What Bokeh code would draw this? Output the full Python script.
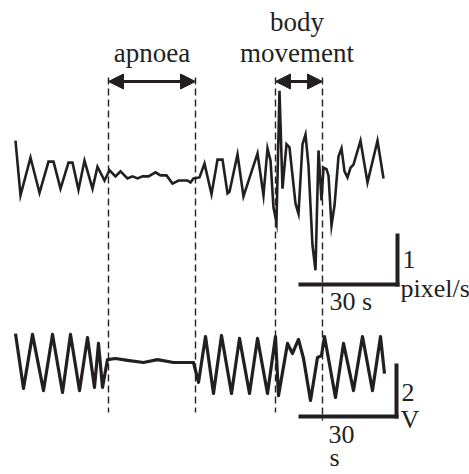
from bokeh.plotting import figure
from bokeh.models import Range1d, Arrow, NormalHead
from bokeh.core.properties import value
from bokeh.embed import file_html
from bokeh.resources import INLINE

# ---- data (time in s) ----
top_t = [0.30, 1.82, 4.85, 7.58, 10.30, 11.82, 13.94, 16.36, 17.58, 19.39, 21.21, 23.64,
         25.15, 27.27, 28.79, 30.61, 32.12, 34.24, 35.76, 37.27, 38.79, 40.61, 42.73, 44.24,
         46.06, 47.88, 49.70, 52.42, 53.33, 54.24, 56.06, 57.58, 59.70, 61.52, 63.03, 64.55,
         65.15, 67.58, 69.39, 73.64, 75.45, 76.67, 77.58, 78.48, 79.39, 80.30, 81.21, 82.42,
         83.33, 85.15, 86.06, 87.27, 88.18, 89.09, 90.30, 91.21, 92.12, 93.03, 93.64, 94.55,
         95.15, 96.06, 96.97, 98.18, 99.09, 100.00, 100.91, 101.82, 102.73, 104.85, 106.97,
         110.00, 111.82]
# velocity, pixel/s
top_v = [0.78, -0.29, 0.45, -0.24, 0.37, 0.37, -0.16, 0.35, 0.35, -0.18, 0.39, -0.16,
         0.27, 0.00, 0.20, 0.08, 0.18, 0.04, 0.08, 0.04, 0.08, 0.08, 0.16, 0.10,
         0.10, -0.06, 0.00, 0.00, -0.04, 0.04, 0.06, 0.33, -0.27, 0.41, 0.41, -0.25,
         -0.22, 0.51, -0.31, 0.53, -0.29, 0.63, 0.39, -0.53, -0.82, 1.76, -0.16, 0.71,
         0.65, -0.45, -0.65, 0.71, 0.90, 0.29, -1.27, -1.76, 0.59, -0.39, 0.25, 0.22,
         0.10, -0.88, -0.49, 0.47, 0.63, 0.18, 0.06, 0.25, 0.31, 0.78, -0.04,
         0.78, 0.04]

bot_t = [0.30, 2.73, 5.45, 8.79, 11.52, 14.55, 16.97, 19.70, 22.12, 24.24, 25.45, 26.67,
         28.18, 30.61, 34.24, 39.09, 43.33, 48.18, 54.24, 55.76, 57.88, 60.30, 62.73, 65.76,
         68.18, 71.21, 73.64, 76.67, 79.09, 80.00, 82.73, 84.24, 86.06, 87.58, 89.70, 91.82,
         93.03, 93.94, 97.27, 99.70, 102.73, 105.45, 108.48, 110.91, 112.12]
# respiration signal, V
bot_v = [1.09, -0.98, 1.06, -1.06, 1.06, -1.13, 1.06, -1.06, 0.94, -0.94, 0.72, -0.94,
         0.11, 0.15, 0.08, 0.00, 0.11, 0.00, 0.00, -0.75, 0.98, -1.17, 1.02, -1.17,
         0.91, -1.17, 0.91, -1.17, 0.98, -1.25, 0.72, 0.34, 0.87, 0.15, -1.43, 0.19,
         0.26, 0.98, -1.32, 0.72, -1.06, 0.98, -1.06, 0.98, -0.42]

events = ["apnoea", "body movement"]
event_start = [28.48, 79.09]
event_end = [54.85, 93.33]

scale_time = 30      # s
scale_top = 1        # pixel/s
scale_bot = 2        # V
scale_t0 = 86.06     # s, start of time scale bar

# ---- layout (screen mapping) ----
W, H = 469, 474
X0, XG = 14.0, 3.3             # px at t=0, px per second
TOP_BASE, TOP_G = 180.0, 51.0  # px at v=0, px per pixel/s
BOT_BASE, BOT_G = 362.0, 26.5  # px at 0 V, px per V
INK = "#231f20"
FONT = value("Liberation Serif")
FS = "26px"

def tx(t):
    return [X0 + XG * a for a in t]

p = figure(width=W, height=H, x_range=Range1d(0, W), y_range=Range1d(H, 0),
           output_backend="svg", toolbar_location=None, min_border=0,
           x_axis_type=None, y_axis_type=None, outline_line_color=None)
p.xgrid.visible = False
p.ygrid.visible = False
p.background_fill_color = "white"
p.border_fill_color = "white"

# traces
p.line(tx(top_t), [TOP_BASE - TOP_G * v for v in top_v], line_color=INK, line_width=2.6,
       line_join="miter")
p.line(tx(bot_t), [BOT_BASE - BOT_G * v for v in bot_v], line_color=INK, line_width=3.2,
       line_join="round")

# dashed event markers
dash_x = []
for s, e in zip(event_start, event_end):
    dash_x += [X0 + XG * s, X0 + XG * e]
dash_y0 = [77, 77, 77, 77]
dash_y1 = [412, 412, 412, 420]
p.segment(dash_x, dash_y0, dash_x, dash_y1, line_color=INK, line_width=1.4, line_dash="7 4")

# arrows
for s, e in zip(event_start, event_end):
    p.add_layout(Arrow(x_start=X0 + XG * s, x_end=X0 + XG * e, y_start=81, y_end=81,
                       line_color=INK, line_width=3,
                       start=NormalHead(size=15, fill_color=INK, line_color=INK, line_width=1),
                       end=NormalHead(size=15, fill_color=INK, line_color=INK, line_width=1)))

# event labels
ax = [(X0 + XG * s + X0 + XG * e) / 2 for s, e in zip(event_start, event_end)]
p.text(x=[ax[0], ax[1] - 2, ax[1] - 2], y=[52, 21, 52], text=["apnoea", "body", "movement"],
       text_font=FONT, text_font_size="27px", text_color=INK,
       text_align="center", text_baseline="alphabetic")

# scale bars
hx0 = X0 + XG * scale_t0
hx1 = hx0 + XG * scale_time
p.segment([hx0, hx1], [284, 286], [hx1 + 2, hx1], [284, 286 - TOP_G * scale_top - 2],
          line_color=INK, line_width=4)
p.segment([hx0, hx1 - 1], [416, 418], [hx1 + 1, hx1 - 1], [416, 418 - BOT_G * scale_bot - 2],
          line_color=INK, line_width=4)

p.text(x=[402, 400, 329], y=[259, 288, 301], text=[str(scale_top), "pixel/s", "%d s" % scale_time],
       text_font=FONT, text_font_size=FS, text_color=INK,
       text_align="left", text_baseline="alphabetic")
p.text(x=[401, 400, 328, 329], y=[392, 419, 434, 457],
       text=[str(scale_bot), "V", str(scale_time), "s"],
       text_font=FONT, text_font_size=FS, text_color=INK,
       text_align="left", text_baseline="alphabetic")

open("out.html", "w").write(file_html(p, INLINE))
